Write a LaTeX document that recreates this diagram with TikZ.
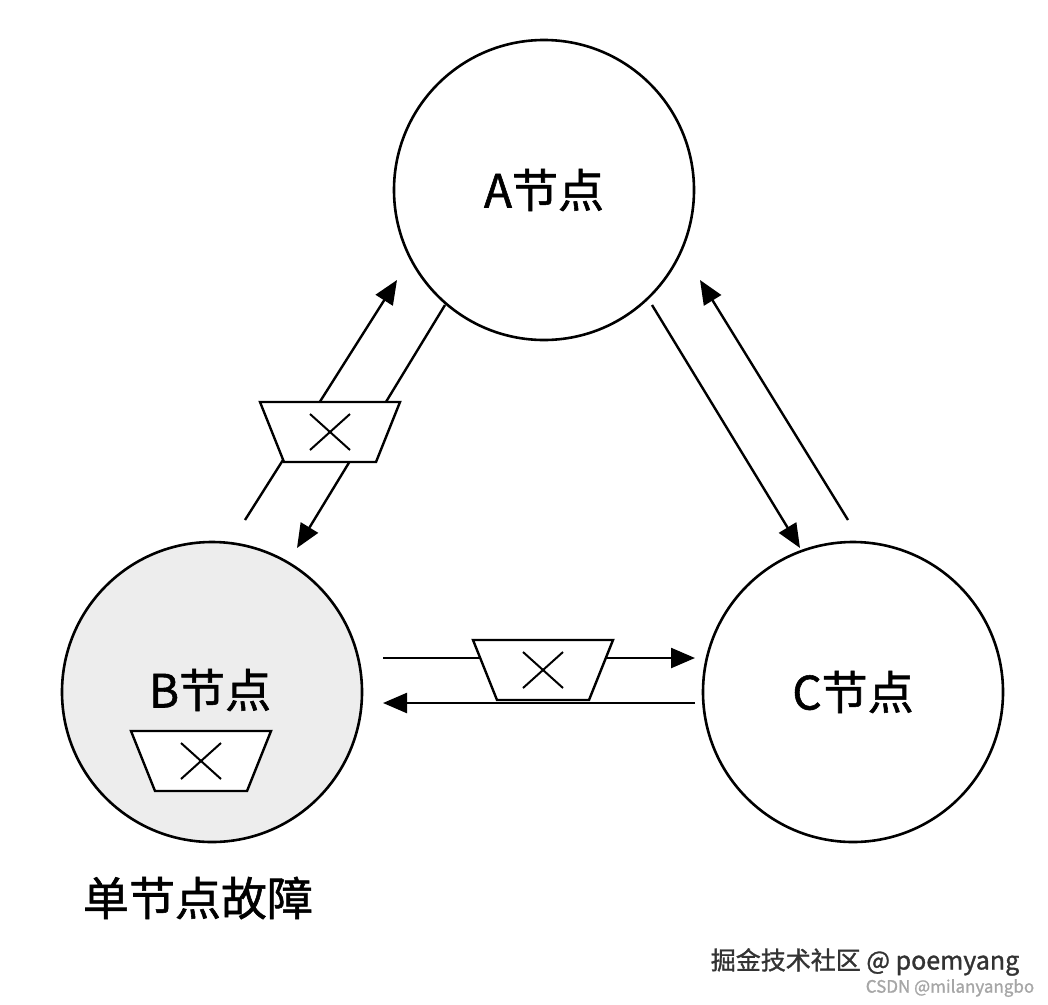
\documentclass[tikz,border=0pt]{standalone}
\usepackage{fontspec}
\setmainfont{Noto Sans CJK SC}[FakeBold=1.2]
\usetikzlibrary{arrows.meta}
\tikzset{
 nodecirc/.style={circle,draw,line width=2.6pt,minimum size=300pt,inner sep=0pt,font=\fontsize{46}{48}\selectfont},
 link/.style={line width=2.4pt,-{Triangle[length=24pt,width=20pt]}},
 trap/.style={draw,line width=2.4pt,fill=white},
 xmark/.style={line width=2pt}
}
\newcommand{\trapz}[2]{%
 \draw[trap] (#1-70,#2-30) -- (#1+70,#2-30) -- (#1+46,#2+30) -- (#1-46,#2+30) -- cycle;
 \draw[xmark] (#1-20,#2-18) -- (#1+20,#2+18) (#1-20,#2+18) -- (#1+20,#2-18);}
\begin{document}
\begin{tikzpicture}[x=1pt,y=-1pt]
\useasboundingbox (0,0) rectangle (1048,1004);
\node[nodecirc] (A) at (544,190) {A节点};
\node[nodecirc,fill=black!7] (B) at (212,692) {};
\node[font=\fontsize{46}{48}\selectfont] (Bt) at (210,690) {B节点};
\node[nodecirc] (C) at (853,692) {C节点};
\coordinate (ab1) at (245,520); \coordinate (ab2) at (397,280);
\coordinate (ab3) at (445,305); \coordinate (ab4) at (297,548);
\coordinate (ac1) at (652,305); \coordinate (ac2) at (800,548);
\coordinate (ac3) at (848,520); \coordinate (ac4) at (700,280);
\coordinate (bc1) at (383,658); \coordinate (bc2) at (695,658);
\coordinate (bc3) at (695,703); \coordinate (bc4) at (383,703);
\draw[link] (ab1) -- (ab2);
\draw[link] (ab3) -- (ab4);
\draw[link] (ac1) -- (ac2);
\draw[link] (ac3) -- (ac4);
\draw[link] (bc1) -- (bc2);
\draw[link] (bc3) -- (bc4);
\trapz{330}{432}
\trapz{543}{670}
\trapz{201}{761}
\node[font=\fontsize{46}{48}\selectfont] (lbl) at (198,898) {单节点故障};
\node[font=\fontsize{25}{27}\selectfont,text=black!80] (w1) at (865,962) {掘金技术社区 @ poemyang};
\node[font=\fontsize{17}{19}\selectfont,text=black!35] (w2) at (950,988) {CSDN @milanyangbo};
\end{tikzpicture}
\end{document}
